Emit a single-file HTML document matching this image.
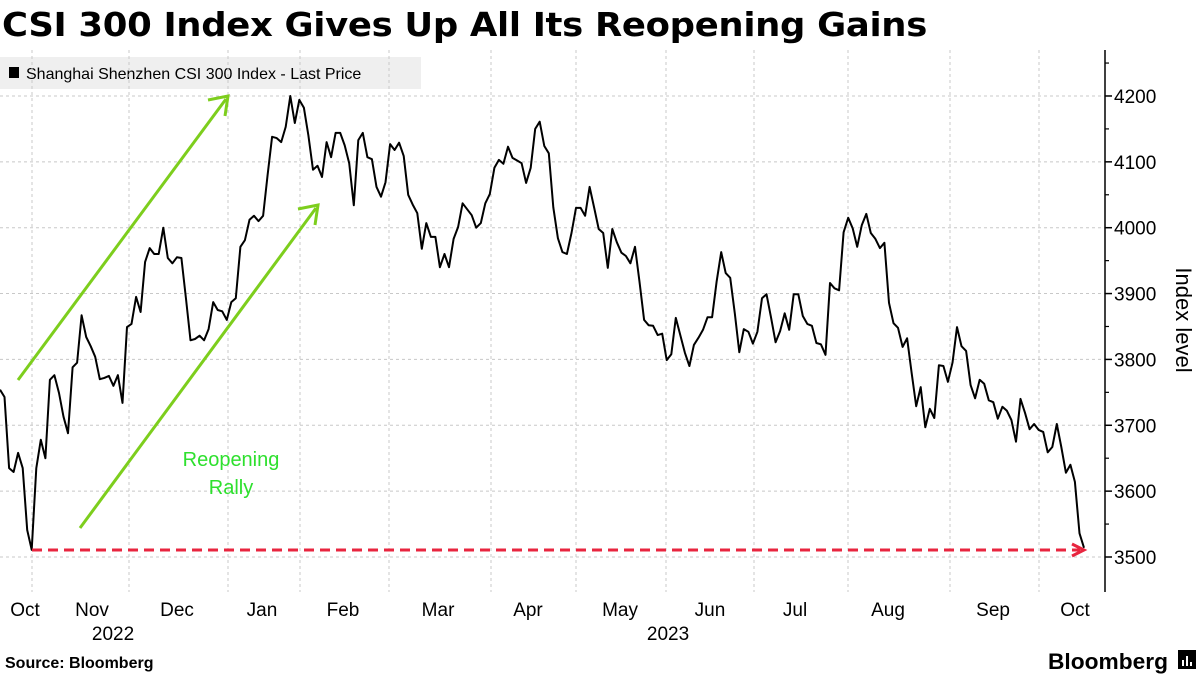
<!DOCTYPE html>
<html><head><meta charset="utf-8"><style>
body{margin:0;background:#fff;font-family:"Liberation Sans",sans-serif;}
#wrap{position:relative;width:1200px;height:675px;overflow:hidden;}
</style></head><body>
<div id="wrap">
<svg id="chart" width="1200" height="675" xmlns="http://www.w3.org/2000/svg">
<text x="2" y="36" font-size="33" font-weight="bold" fill="#000" style="font-family:'DejaVu Sans',sans-serif;letter-spacing:-0.3px" textLength="925" lengthAdjust="spacingAndGlyphs">CSI 300 Index Gives Up All Its Reopening Gains</text>
<rect x="0" y="57" width="421" height="32" fill="#efefef"/>
<rect x="9" y="67" width="10" height="11" fill="#000"/>
<text x="26" y="79" font-size="16" fill="#000">Shanghai Shenzhen CSI 300 Index - Last Price</text>
<g id="grid"></g>
<g id="yaxis"></g>
<g id="xaxis"></g>
<text transform="translate(1176,320) rotate(90)" text-anchor="middle" font-size="22" fill="#000">Index level</text>
<g id="annot">
<line x1="18" y1="380" x2="226" y2="99" stroke="#7dce1d" stroke-width="3"/>
<polyline points="208,100 228,96 225,116" fill="none" stroke="#7dce1d" stroke-width="3"/>
<line x1="80" y1="528" x2="316" y2="208" stroke="#7dce1d" stroke-width="3"/>
<polyline points="298,209 318,205 315,225" fill="none" stroke="#7dce1d" stroke-width="3"/>
<text x="231" y="466" text-anchor="middle" font-size="20" fill="#2ee02e">Reopening</text>
<text x="231" y="494" text-anchor="middle" font-size="20" fill="#2ee02e">Rally</text>
</g>
<g id="series"></g>
<line x1="32" y1="550" x2="1080" y2="550" stroke="#e8253f" stroke-width="3" stroke-dasharray="10,6"/>
<polyline points="1072,544 1084,550 1072,556" fill="none" stroke="#e8253f" stroke-width="3"/>
<text x="5" y="668" font-size="16" font-weight="bold" fill="#000">Source: Bloomberg</text>
<text x="1048" y="669" font-size="22" font-weight="bold" fill="#000" textLength="120" lengthAdjust="spacingAndGlyphs">Bloomberg</text>
<g>
<rect x="1178" y="650" width="18" height="19" fill="#000"/>
<rect x="1182" y="660" width="2" height="6" fill="#fff"/>
<rect x="1186" y="656" width="2" height="10" fill="#fff"/>
<rect x="1190" y="662" width="2" height="4" fill="#fff"/>
</g>
</svg>
</div>
<script>
const values=[3754,3743,3635,3629,3658,3635,3541,3511,3635,3678,3650,3769,3776,3749,3713,3688,3788,3795,3867,3834,3820,3804,3770,3772,3775,3760,3776,3734,3849,3854,3895,3872,3948,3969,3960,3960,4000,3954,3946,3955,3954,3892,3829,3831,3836,3829,3846,3887,3875,3873,3860,3887,3893,3971,3981,4012,4018,4010,4018,4080,4138,4136,4130,4153,4200,4159,4194,4182,4140,4088,4094,4077,4130,4107,4144,4144,4125,4098,4034,4133,4144,4107,4104,4062,4047,4069,4127,4118,4129,4109,4050,4035,4022,3968,4007,3986,3986,3940,3960,3940,3983,4001,4037,4028,4019,4000,4007,4037,4051,4091,4103,4097,4123,4106,4102,4098,4068,4091,4150,4161,4124,4113,4031,3984,3963,3960,3992,4030,4030,4018,4062,4030,3998,3992,3939,3998,3978,3962,3957,3946,3971,3918,3860,3852,3851,3837,3839,3799,3808,3863,3837,3810,3790,3822,3833,3845,3864,3864,3918,3963,3931,3924,3870,3811,3846,3842,3824,3842,3893,3899,3864,3826,3843,3870,3845,3899,3899,3866,3854,3851,3825,3823,3807,3916,3908,3905,3993,4015,3999,3971,4004,4021,3992,3983,3969,3977,3886,3855,3848,3819,3832,3780,3729,3758,3697,3725,3711,3791,3790,3766,3795,3849,3820,3813,3761,3741,3769,3763,3738,3735,3710,3728,3722,3708,3675,3740,3719,3694,3702,3693,3690,3659,3667,3702,3667,3628,3640,3614,3536,3514];
const yTicks=[3500,3600,3700,3800,3900,4000,4100,4200];
const monthLabels=["Oct","Nov","Dec","Jan","Feb","Mar","Apr","May","Jun","Jul","Aug","Sep","Oct"];
const monthPos=[0.5,1.265,2.236,3.206,4.131,5.216,6.243,7.294,8.321,9.292,10.354,11.553,12.489];
const gridMonths=[1,2,3,4,5,6,7,8,9,10,11,12];
const yearLabels=["2022","2023"];
const yearPos=[1.505,7.842];
const NS="http://www.w3.org/2000/svg";
const X0=0,X1=1084,PLOT_R=1105;
function yScale(v){return 557-(v-3500)*0.6586;}
function xIndex(i){return X0+i*(X1-X0)/(values.length-1);}
function xMonth(m){return 25+(m-0.5)*(1076-25)/12;}
function mk(tag,attrs,parent){const e=document.createElementNS(NS,tag);for(const k in attrs)e.setAttribute(k,attrs[k]);parent.appendChild(e);return e;}
const grid=document.getElementById('grid'),yax=document.getElementById('yaxis'),xax=document.getElementById('xaxis'),ser=document.getElementById('series');
yTicks.forEach(t=>{
 const y=yScale(t);
 const g=mk('line',{x1:0,x2:PLOT_R,y1:y,y2:y,stroke:'#c8c8c8','stroke-dasharray':'3,3','stroke-width':1},grid);
 
 
 const tk=mk('line',{x1:PLOT_R,x2:PLOT_R+7,y1:y,y2:y,stroke:'#000','stroke-width':1.5},yax);
 
 
 const mn=mk('line',{x1:PLOT_R,x2:PLOT_R+4,y1:yScale(t+50),y2:yScale(t+50),stroke:'#000','stroke-width':1.2},yax);
 
 
 const lb=mk('text',{x:PLOT_R+9,y:y+7,'font-size':19,fill:'#000'},yax);
 lb.textContent=t;
 
 
});
const ax=mk('line',{x1:PLOT_R,x2:PLOT_R,y1:50,y2:592,stroke:'#000','stroke-width':1.5},yax);


const vg=[32,129,228,300,389,491,576,666,754,848,950,1039];
gridMonths.forEach((m,i)=>{
 const x=vg[i];
 const l=mk('line',{x1:x,x2:x,y1:50,y2:592,stroke:'#c8c8c8','stroke-dasharray':'3,3','stroke-width':1},grid);
 
 
});
monthLabels.forEach((m,i)=>{
 const t=mk('text',{x:xMonth(monthPos[i]),y:616,'text-anchor':'middle','font-size':19,fill:'#000'},xax);
 t.textContent=m;
 
 
});
yearLabels.forEach((yv,i)=>{
 const t=mk('text',{x:xMonth(yearPos[i]),y:640,'text-anchor':'middle','font-size':19,fill:'#000'},xax);
 t.textContent=yv;
 
 
});
const pts=values.map((v,i)=>xIndex(i).toFixed(1)+','+yScale(v).toFixed(1)).join(' ');
const line=mk('polyline',{points:pts,fill:'none',stroke:'#000','stroke-width':2,'stroke-linejoin':'round'},ser);


</script>
</body></html>
